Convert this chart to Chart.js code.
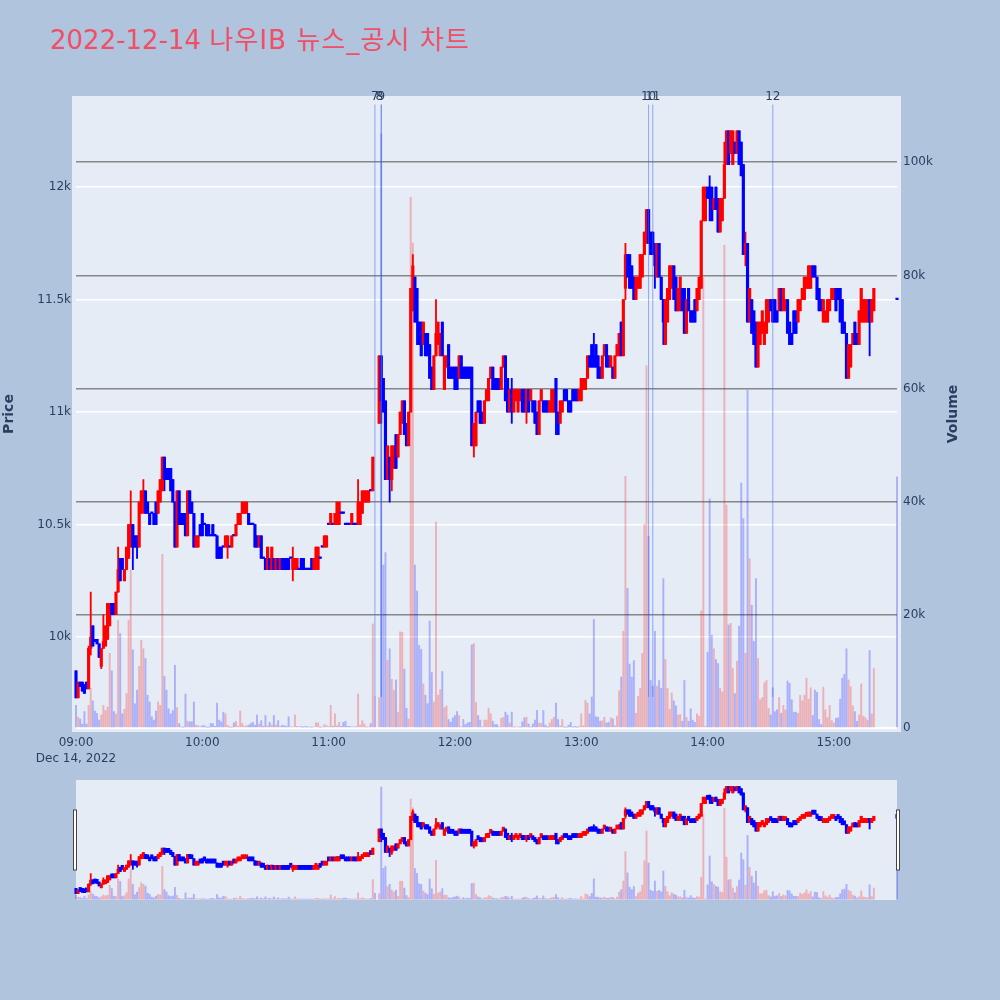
<!DOCTYPE html>
<html>
<head>
<meta charset="utf-8">
<style>
  body { margin: 0; background: #b0c4de; width: 1000px; height: 1000px; overflow: hidden; }
  canvas { position: absolute; left: 0; }
  #main { top: 0; }
  #slider { top: 780px; }
  #title { position: absolute; left: 50px; top: 19px; margin: 0; color: #ef5068; font: 400 26px "DejaVu Sans", "Noto Sans CJK KR", sans-serif; white-space: nowrap; }
  #title span { letter-spacing: 1.1px; }
</style>
<script src="https://cdn.jsdelivr.net/npm/chart.js@4"></script>
</head>
<body>
<h1 id="title">2022-12-14 <span>나우IB 뉴스_공시 차트</span></h1>
<canvas id="main" width="1000" height="770"></canvas>
<canvas id="slider" width="1000" height="120"></canvas>
<script>
// one entry per minute from 09:00, ten per line
const opens = [
  9850,9730,9800,9800,9790,9800,9770,9950,10050,9990,
  9990,9970,9870,9950,9960,9990,10050,10150,10150,10100,
  10200,10350,10350,10250,10300,10350,10400,10500,10450,10450,
  10400,10550,10600,10650,10600,10550,10550,10550,10600,10550,
  10600,10650,10800,10750,10750,10750,10700,10600,10400,10650,
  10550,10550,10550,10450,10650,10600,10550,10400,10400,10500,
  10550,10500,10500,10500,10450,10500,10450,10450,10400,10400,
  10400,10400,10400,10400,10400,10450,10450,10500,10500,10550,
  10550,10550,10550,10500,10500,10500,10450,10400,10450,10350,
  10350,10300,10350,10300,10350,10300,10350,10300,10350,10350,
  10350,10350,10350,10300,10300,10300,10300,10350,10350,10300,
  10300,10300,10350,10300,10350,10300,10350,10400,10400,10400,
  10500,10500,10500,10500,10500,10500,10550,10550,10500,10500,
  10500,10500,10500,10500,10500,10500,10550,10600,10600,10600,
  10650,10650,null,null,10950,11250,11150,11050,10700,10800,
  10700,10750,10900,10800,10900,10950,11050,10950,10850,11000,
  11450,11600,11550,11400,11400,11300,11350,11350,11300,11200,
  11100,11250,11300,11250,11400,11100,11200,11300,11200,11200,
  11200,11200,11150,11250,11200,11200,11200,11200,11200,10850,
  10850,11050,11050,11000,10950,11050,11050,11150,11200,11150,
  11150,11150,11100,11200,11250,11150,11000,11100,11000,11050,
  11000,11050,11100,11100,11000,11100,11050,11050,11050,11000,
  10900,11050,11050,11050,11050,11000,11000,11000,11150,11000,
  10950,11000,11100,11100,11050,11050,11100,11100,11100,11050,
  11050,11100,11100,11150,11250,11300,11250,11300,11250,11200,
  11150,11250,11300,11250,11200,11200,11150,11250,11250,11400,
  11250,11550,11700,11700,11650,11600,11500,11550,11550,11600,
  11700,11750,11900,11800,11800,11700,11600,11750,11600,11500,
  11300,11400,11500,11550,11650,11600,11450,11450,11550,11550,
  11350,11550,11450,11450,11500,11450,11500,11550,11850,11850,
  12000,12000,12000,11900,12000,11950,11800,11850,11950,12100,
  12250,12150,12100,12200,12150,12250,12200,12100,11700,11750,
  11400,11500,11450,11400,11200,11300,11350,11300,11350,11400,
  11500,11500,11500,11450,11450,11550,11450,11450,11500,11400,
  11350,11450,11450,11400,11450,11500,11500,11550,11550,11550,
  11650,11650,11600,11550,11500,11400,11400,11400,11450,11500,
  11500,11550,11550,11550,11500,11400,11350,11150,11200,11300,
  11400,11350,11300,11400,11400,11400,11400,11500,11400,11450,
  null,null,null,null,null,null,null,null,null,null,
  11500
];
const closes = [
  9730,9800,9780,9760,9750,9770,9950,10000,9960,9980,
  9970,9910,9950,9980,10050,10150,10150,10100,10100,10200,
  10300,10250,10300,10300,10400,10500,10500,10400,10400,10400,
  10600,10650,10650,10550,10550,10500,10550,10500,10500,10650,
  10700,10800,10700,10700,10700,10650,10600,10400,10650,10500,
  10500,10500,10450,10650,10550,10550,10400,10450,10450,10450,
  10450,10500,10450,10450,10450,10450,10450,10350,10350,10350,
  10400,10450,10450,10400,10450,10450,10500,10550,10550,10600,
  10600,10600,10500,10500,10500,10400,10400,10450,10350,10350,
  10300,10400,10300,10400,10300,10350,10300,10350,10300,10300,
  10300,10300,10350,10350,10350,10350,10300,10300,10300,10300,
  10300,10300,10300,10350,10400,10400,10350,10400,10450,10450,
  10500,10550,10500,10550,10600,10600,10550,10550,10500,10500,
  10500,10550,10500,10500,10600,10600,10650,10650,10650,10650,
  10650,10800,null,null,11250,11050,11000,10700,10850,10700,
  10850,10850,10750,10900,11000,11050,10900,10850,11000,11550,
  11650,11400,11400,11300,11250,11400,11250,11250,11150,11100,
  11250,11350,11400,11350,11250,11250,11250,11150,11150,11150,
  11100,11100,11250,11150,11150,11150,11150,11150,10850,10950,
  11000,11000,10950,10950,11050,11100,11150,11200,11100,11100,
  11100,11100,11200,11250,11050,11000,11100,11000,11100,11100,
  11100,11100,11000,11000,11100,11000,11100,11000,10950,10900,
  11050,11100,11000,11000,11000,11050,11100,11100,11000,10900,
  11050,11050,11050,11050,11000,11000,11050,11050,11050,11100,
  11150,11150,11150,11250,11200,11200,11200,11200,11150,11150,
  11250,11300,11200,11200,11250,11150,11250,11300,11350,11250,
  11500,11700,11600,11550,11550,11500,11600,11600,11700,11700,
  11800,11900,11750,11700,11700,11650,11750,11600,11500,11400,
  11500,11550,11650,11650,11500,11450,11550,11600,11450,11350,
  11500,11450,11400,11400,11400,11550,11600,11850,12000,12000,
  11950,11950,11850,11950,11900,11800,11950,11950,12100,12250,
  12100,12250,12250,12150,12250,12100,12050,11700,11750,11400,
  11550,11350,11300,11200,11400,11400,11450,11400,11500,11500,
  11450,11400,11400,11400,11550,11450,11550,11500,11350,11300,
  11300,11350,11350,11500,11500,11550,11600,11600,11650,11650,
  11600,11600,11500,11450,11450,11500,11450,11500,11500,11550,
  11550,11450,11500,11400,11350,11350,11150,11300,11300,11350,
  11300,11300,11450,11550,11500,11500,11500,11400,11500,11550,
  null,null,null,null,null,null,null,null,null,null,
  11500
];
// wicks that stick out of the candle body, by minute index
const wickHighs = { 6: 9960, 7: 10200, 13: 10100, 20: 10400, 26: 10650, 32: 10700, 103: 10400, 134: 10700, 160: 11700, 171: 11500, 207: 11150, 246: 11350, 261: 11750, 275: 11750, 301: 12050, 308: 12200, 318: 11800 };
const wickLows = { 7: 9920, 12: 9860, 27: 10300, 29: 10350, 32: 10550, 42: 10650, 72: 10350, 103: 10250, 114: 10300, 145: 10950, 149: 10600, 150: 10650, 162: 11300, 189: 10800, 207: 10950, 214: 10950, 228: 10900, 261: 11500, 275: 11550, 279: 11300, 301: 11850, 318: 11650, 377: 11250 };
// volume in thousands
const volumes = [
  4,1.9,1.6,.7,2.9,.7,4,7,4.8,3,
  2.6,1.4,2.3,4,3.1,3.7,13.2,10.1,2.9,2.5,
  19,16.7,2.5,3.3,6.1,19,27.9,13.8,4.3,6.7,
  10.9,15.5,14,12.3,5.8,4.6,2,1.4,3,4.6,
  4,30.7,9.1,6.7,3.4,2.5,3.1,11.1,3.6,.8,
  .2,.1,6,1.2,1.1,1.1,4.6,.5,.4,.2,
  .4,.4,.1,.1,.8,.8,.3,4.4,1.4,1.1,
  2.8,2.5,.5,.1,.1,.9,1.2,.3,3,.8,
  .3,.4,.5,.8,1,.5,2.3,.7,1.3,.3,
  2.2,.4,1,.5,2.2,.5,1.3,.3,.5,.4,
  .3,2,.2,.2,2.3,.3,.2,.3,.1,.3,
  .1,.2,.1,.2,.9,.9,.1,.2,.6,.4,
  .2,4,.3,2.5,.4,1,.3,1,1.2,.3,
  .3,.2,.2,.2,6,.5,1.3,.7,.1,.2,
  .8,18.4,5.5,null,5.4,105,28.8,31,12,14,
  8.6,6.7,8.5,2.8,17,16.9,10.4,3.5,1.6,93.8,
  85.7,28.8,24.2,14.6,13.9,7.8,5.8,4.3,18.9,9.8,
  4.6,36.4,5.8,6.8,10,3.6,3.9,1.5,1,1.8,
  2.2,2.9,2.2,.2,1.5,.6,.9,1,14.7,14.9,
  4.5,2.2,1.4,.2,1.4,1.4,3.5,2.5,1.2,.6,
  .6,.2,1.7,1.9,2.8,2.3,.9,2.8,.1,.2,
  .2,.1,1.1,1.8,1.9,.7,.1,.7,1.4,3.1,
  .9,.8,3.1,.5,.1,.9,1.5,1.9,4.4,1.5,
  .4,1.5,.1,.1,.5,1,.1,.3,.1,.3,
  2.5,.4,4.9,4.4,2.5,5.5,19.2,2,1.9,1.2,
  1.3,1.9,.9,1,1.8,1.6,.4,2.1,6.6,9,
  17.1,44.5,24.7,11.3,9,11.9,2.6,5.6,7,13.2,
  36,64,33.9,8.4,7.4,17.1,7.4,8.4,7,26.4,
  12.1,7,3.3,6.2,4.8,3.9,2.3,2.4,1.2,8.4,
  1.9,1.2,3.4,1.4,1,2.5,2.1,20.7,79.6,.3,
  13.4,40.5,16.4,14,12.1,11.4,7,6.4,85.3,39.4,
  18.2,18.5,10.5,6.1,11.8,18,43.3,37,13.2,59.7,
  29.9,21.7,15.3,26.4,12.3,5,5.4,8,8.4,3.5,
  2.3,7.1,2.9,3.2,5.4,2.6,4,3.2,8.3,7.9,
  5,2.8,2.8,2.6,5.8,4.8,5.8,8.8,5.1,7.1,
  2.2,6.7,6.3,1.5,.6,7.2,3.2,1.8,4,1.3,
  .9,1.7,1.8,5.1,8.8,9.5,14,8.5,7.3,3.9,
  2.9,1.2,2.3,7.8,2.1,1.8,1.4,13.7,2.5,10.5,
  null,null,null,null,null,null,null,null,null,null,
  44.4
];
const timeTicks = ["09:00", "10:00", "11:00", "12:00", "13:00", "14:00", "15:00"];
const dateLabel = "Dec 14, 2022";
const priceTickValues = [10000, 10500, 11000, 11500, 12000];
const priceTicks = ["10k", "10.5k", "11k", "11.5k", "12k"];
const volumeTicks = ["0", "20k", "40k", "60k", "80k", "100k"];
// news markers: minute index, number shown on top
const newsTimes = [142, 145, 145, 272, 274, 331];
const newsLabels = ["7", "8", "9", "10", "11", "12"];

const RED = "#ff0000";
const BLUE = "#0000ff";
const INK = "#2a3f5f";
const FONT = "'DejaVu Sans', sans-serif";

function makeDatasets(minBody) {
  const minutes = opens.map((o, i) => i).filter((i) => opens[i] !== null);
  const up = (i) => closes[i] > opens[i];
  const candleColor = minutes.map((i) => (up(i) ? RED : BLUE));
  const barMinutes = volumes.map((v, i) => i).filter((i) => volumes[i] !== null);

  return [
    {
      label: "wick",
      yAxisID: "y",
      order: 3,
      grouped: false,
      clip: 3,
      barThickness: 1.2,
      backgroundColor: candleColor,
      data: minutes.map((i) => ({
        x: i,
        y: [wickLows[i] ?? Math.min(opens[i], closes[i]), wickHighs[i] ?? Math.max(opens[i], closes[i])],
      })),
    },
    {
      label: "body",
      yAxisID: "y",
      order: 2,
      grouped: false,
      clip: 3,
      barThickness: 2.5,
      minBarLength: minBody,
      backgroundColor: candleColor,
      data: minutes.map((i) => ({ x: i, y: [opens[i], closes[i]] })),
    },
    {
      label: "Volume",
      yAxisID: "y1",
      order: 1,
      grouped: false,
      clip: 3,
      barThickness: 1.3,
      backgroundColor: barMinutes.map((i) => (up(i) ? "rgba(255,0,0,0.25)" : "rgba(0,0,255,0.25)")),
      data: barMinutes.map((i) => ({ x: i, y: volumes[i] })),
    },
  ];
}

// panel behind the plot, a bit larger than the axes
const panelPlugin = {
  id: "panel",
  beforeDraw(chart, args, opts) {
    const a = chart.chartArea;
    const pad = opts.pad || 0;
    chart.ctx.fillStyle = "#e5ecf6";
    chart.ctx.fillRect(a.left - pad, a.top - pad, a.right - a.left + pad * 2, a.bottom - a.top + pad * 2);
  },
};

const newsPlugin = {
  id: "news",
  afterDraw(chart) {
    const { ctx, scales } = chart;
    ctx.save();
    ctx.textAlign = "center";
    ctx.textBaseline = "middle";
    ctx.font = "12px " + FONT;
    newsTimes.forEach((t, i) => {
      const x = scales.x.getPixelForValue(t);
      ctx.strokeStyle = "rgba(65,105,235,0.55)";
      ctx.lineWidth = 1;
      ctx.beginPath();
      ctx.moveTo(x, scales.y1.getPixelForValue(110.2));
      ctx.lineTo(x, scales.y1.getPixelForValue(5.5));
      ctx.stroke();
      ctx.fillStyle = INK;
      ctx.fillText(newsLabels[i], x + (i === 1 ? -2 : 0), scales.y1.getPixelForValue(111.5));
    });
    // right axis title reads upwards, chart.js would turn it the other way
    ctx.translate(scales.y1.right - 47, (chart.chartArea.top + chart.chartArea.bottom) / 2);
    ctx.rotate(-Math.PI / 2);
    ctx.fillStyle = INK;
    ctx.font = "bold 14px " + FONT;
    ctx.fillText("Volume", 0, 0);
    ctx.restore();
  },
};

const handlePlugin = {
  id: "handles",
  afterDraw(chart) {
    const { ctx, chartArea: a } = chart;
    ctx.fillStyle = "#fff";
    ctx.strokeStyle = "#444";
    ctx.lineWidth = 1;
    [a.left - 2.5, a.right - 0.5].forEach((x) => {
      ctx.fillRect(x, a.top + 30, 3, 60);
      ctx.strokeRect(x, a.top + 30, 3, 60);
    });
  },
};

new Chart(document.getElementById("main"), {
  type: "bar",
  data: { datasets: makeDatasets(1.5) },
  plugins: [panelPlugin, newsPlugin],
  options: {
    responsive: false,
    animation: false,
    layout: { padding: { top: 100 } },
    plugins: { legend: { display: false }, tooltip: { enabled: false }, panel: { pad: 4 } },
    scales: {
      x: {
        type: "linear",
        offset: false,
        min: 0,
        max: 390,
        afterFit: (s) => { s.height = 42; },
        grid: { display: false, drawTicks: false },
        border: { display: false },
        ticks: {
          stepSize: 60,
          includeBounds: false,
          autoSkip: false,
          maxRotation: 0,
          padding: 7,
          color: INK,
          font: { family: FONT, size: 12, lineHeight: 1.35 },
          callback: (v) => {
            const label = timeTicks[v / 60];
            return v === 0 ? [label, dateLabel] : label;
          },
        },
      },
      y: {
        position: "left",
        min: 9596,
        max: 12387,
        afterFit: (s) => { s.width = 76; },
        // stepSize would start the ticks at min, so they are set by hand
        afterBuildTicks: (s) => { s.ticks = priceTickValues.map((value) => ({ value })); },
        grid: { color: "#ffffff", lineWidth: 1.5, drawTicks: false },
        border: { display: false },
        title: { display: true, text: "Price", color: INK, font: { family: FONT, size: 14, weight: "bold" }, padding: { top: 1, bottom: 0 } },
        ticks: {
          padding: 5,
          color: INK,
          font: { family: FONT, size: 12 },
          callback: (v) => priceTicks[priceTickValues.indexOf(v)],
        },
      },
      y1: {
        position: "right",
        min: 0,
        max: 111,
        afterFit: (s) => { s.width = 103; },
        grid: {
          color: (c) => (c.tick.value === 0 ? "#ffffff" : "rgba(110,110,110,0.8)"),
          lineWidth: (c) => (c.tick.value === 0 ? 2 : 1.5),
          drawTicks: false,
        },
        border: { display: false },
        ticks: {
          stepSize: 20,
          includeBounds: false,
          padding: 6,
          color: INK,
          font: { family: FONT, size: 12 },
          callback: (v) => volumeTicks[v / 20],
        },
      },
    },
  },
});

// range slider under the chart, same data with no axes
new Chart(document.getElementById("slider"), {
  type: "bar",
  data: { datasets: makeDatasets(4) },
  plugins: [panelPlugin, handlePlugin],
  options: {
    responsive: false,
    animation: false,
    layout: { padding: { left: 76, right: 103 } },
    plugins: { legend: { display: false }, tooltip: { enabled: false } },
    scales: {
      x: { type: "linear", offset: false, display: false, min: 0, max: 390 },
      y: { display: false, position: "left", min: 9578, max: 12404 },
      y1: { display: false, position: "right", min: -0.7, max: 111.7 },
    },
  },
});
</script>
</body>
</html>
